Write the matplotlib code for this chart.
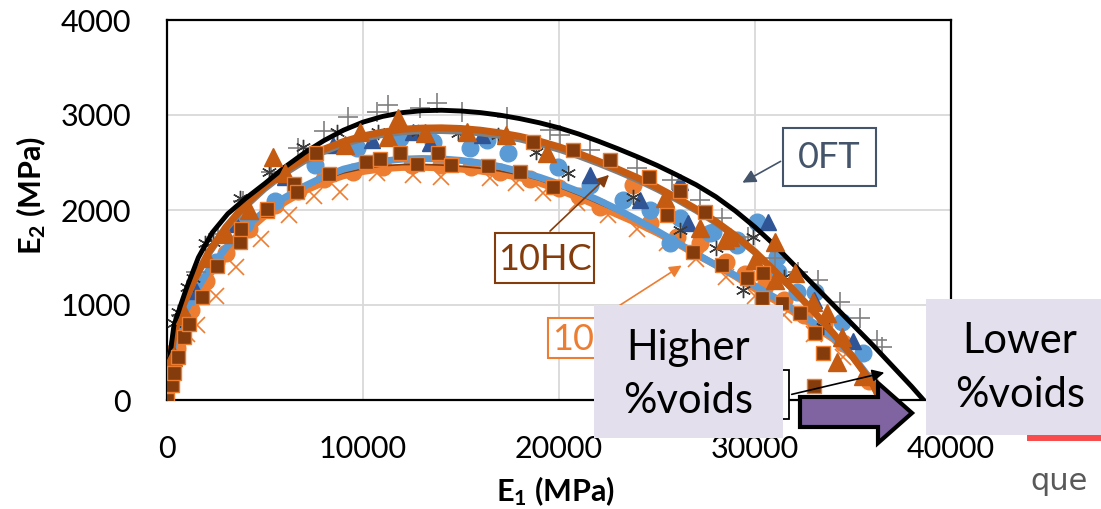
import matplotlib
matplotlib.use('Agg')
import matplotlib.pyplot as plt
from matplotlib.patches import Rectangle, Polygon

plt.rcParams['font.family'] = ['Lato', 'DejaVu Sans']
plt.rcParams['mathtext.default'] = 'regular'

# ---- fitted curves ----
fit0_x = [0, 30, 120, 350, 700, 1000, 1600, 2300, 3100, 4000, 5000, 6000, 7000, 8000, 9000, 10000,
          11000, 12000, 13000, 14000, 15000, 16000, 17000, 18000, 19000, 20000, 21000, 22000,
          23000, 24000, 25000, 26000, 27000, 28000, 29000, 30000, 31000, 32000, 33000, 34000,
          35000, 36000, 37000, 38000, 38600]
fit0_y = [0, 200, 420, 780, 1000, 1180, 1500, 1760, 1960, 2120, 2280, 2450, 2600, 2730, 2840, 2925,
          2985, 3025, 3045, 3050, 3042, 3025, 2998, 2962, 2918, 2865, 2800, 2725,
          2645, 2560, 2470, 2370, 2265, 2140, 1990, 1820, 1630, 1420, 1210, 1000,
          790, 580, 360, 140, 0]

fit_x = [0, 40, 150, 400, 800, 1400, 2100, 3000, 4000, 5000, 6000, 7000, 8000, 9000, 10000, 11000,
         12000, 13000, 14000, 15000, 16000, 17000, 18000, 19000, 20000, 21000, 22000, 23000, 24000,
         25000, 26000, 27000, 28000, 29000, 30000, 31000, 32000, 33000, 34000, 35000, 36000, 36400]
fitHC_y = [0, 200, 420, 720, 990, 1270, 1550, 1820, 2060, 2250, 2410, 2540, 2640, 2720, 2780, 2820,
           2850, 2862, 2865, 2858, 2840, 2812, 2775, 2725, 2665, 2595, 2515, 2430, 2340,
           2240, 2130, 2010, 1880, 1730, 1560, 1360, 1150, 930, 700, 450, 170, 0]
fitG_y = [0, 190, 400, 690, 950, 1230, 1510, 1780, 2020, 2210, 2370, 2500, 2600, 2680, 2740, 2780,
          2808, 2820, 2822, 2815, 2797, 2770, 2733, 2684, 2625, 2556, 2478, 2394, 2305,
          2206, 2098, 1980, 1852, 1705, 1537, 1340, 1133, 917, 690, 442, 165, 0]
fitB_y = [0, 180, 380, 640, 880, 1120, 1360, 1600, 1820, 1990, 2130, 2250, 2350, 2430, 2480, 2515,
          2535, 2542, 2538, 2522, 2495, 2457, 2405, 2345, 2275, 2195, 2105, 2005, 1895,
          1780, 1660, 1540, 1420, 1310, 1200, 1080, 950, 810, 660, 460, 190, 0]
fitO_y = [0, 160, 350, 600, 840, 1070, 1300, 1540, 1760, 1940, 2080, 2200, 2290, 2360, 2405, 2435,
          2448, 2450, 2443, 2430, 2410, 2380, 2340, 2285, 2210, 2130, 2040, 1950, 1860,
          1760, 1650, 1530, 1420, 1300, 1170, 1050, 920, 780, 640, 450, 180, 0]

# ---- measured points ----
sq_x = [0, 255, 357, 561, 867, 1122, 1786, 2551, 3724, 3776, 5102, 5102, 6480, 6633, 7602, 8265,
        10153, 10867, 11888, 12755, 13827, 14490, 16378, 18010, 18673, 19694, 20714, 22602, 24592,
        25510, 26173, 26837, 27449, 28316, 29592, 30408, 30357, 31378, 32296, 33061, 33469, 33010]
sq_y = [0, 158, 284, 453, 663, 800, 1084, 1411, 1663, 1800, 1989, 2011, 2274, 2189, 2600, 2379,
        2505, 2537, 2600, 2484, 2600, 2474, 2463, 2400, 2716, 2242, 2632, 2526, 2347,
        1947, 2200, 1558, 1979, 1421, 1284, 1337, 1074, 1021, 916, 705, 495, 147]

trio_x = [0, 300, 900, 2041, 3000, 4200, 5408, 6020, 9082, 9847, 11276, 11786, 13163, 15306, 17296,
          19388, 25408, 27194, 28469, 28724, 30000, 31020, 31020, 32041, 32959, 33673, 34439, 34184, 35500]
trio_y = [0, 450, 900, 1495, 1750, 2000, 2558, 2389, 2684, 2821, 2768, 2968, 2811, 2821, 2789,
          2600, 2126, 1811, 1684, 1716, 1474, 1663, 1263, 1337, 1032, 916, 663, 400, 250]

circb_x = [200, 700, 1300, 2500, 4000, 5500, 7551, 9694, 11888, 13571, 15459, 16327, 17398, 19949,
           21582, 23265, 24643, 26173, 25663, 27704, 27857, 29082, 29082, 30102, 31122, 31173, 32143,
           33061, 34439, 35500]
circb_y = [350, 800, 1100, 1450, 1850, 2100, 2474, 2653, 2758, 2716, 2653, 2737, 2600, 2453,
           2263, 2105, 2000, 1916, 1653, 1758, 1768, 1684, 1632, 1874, 1505, 1347, 1137,
           1137, 821, 500]

trib_x = [300, 1500, 3500, 6000, 8469, 10459, 12551, 13418, 16071, 21582, 24133, 26173, 26582,
          30663, 33000, 35000]
trib_y = [500, 1150, 1850, 2350, 2684, 2737, 2821, 2705, 2789, 2368, 2105, 2295, 1863,
          1874, 1050, 620]

circo_x = [100, 500, 1200, 2000, 3000, 4200, 5500, 6700, 8000, 9500, 11000, 12500, 14000, 15500,
           17000, 18500, 20000, 21000, 22092, 23775, 24643, 26000, 27194, 28500, 29500, 30500,
           31500, 32500, 33500, 34500, 35800]
circo_y = [200, 550, 950, 1250, 1550, 1800, 2050, 2200, 2330, 2400, 2450, 2470, 2470, 2450,
           2400, 2330, 2230, 2150, 2032, 2263, 1863, 1720, 1653, 1450, 1330, 1200,
           1050, 900, 800, 600, 200]

xo_x = [400, 1000, 1531, 2500, 3500, 4800, 6200, 7500, 8827, 10714, 12551, 14000, 16480, 17800,
        19184, 20918, 22500, 24000, 25500, 27000, 28500, 30000, 31500, 33000, 34500]
xo_y = [500, 700, 789, 1100, 1400, 1700, 1950, 2150, 2189, 2389, 2368, 2350, 2337, 2280,
        2179, 2074, 1950, 1800, 1650, 1480, 1300, 1100, 900, 700, 450]

plus_x = [150, 700, 1500, 2600, 3900, 5300, 6700, 8000, 9235, 10714, 11276, 12908, 13776, 15051,
          17347, 19541, 20051, 21582, 23980, 25765, 27194, 28316, 29643, 31000, 32200, 33214,
          34337, 35357, 36224, 36480]
plus_y = [400, 900, 1350, 1750, 2100, 2400, 2650, 2830, 2979, 3032, 3105, 3074, 3126, 3032,
          2979, 2842, 2789, 2632, 2442, 2316, 2105, 1916, 1716, 1500, 1350, 1263,
          1032, 863, 632, 558]

star_x = [0, 357, 561, 1020, 1327, 1939, 2347, 3724, 5200, 6939, 8673, 10765, 12806, 14847, 16888,
          18827, 20459, 23776, 26173, 28000, 29388, 29898, 31500, 33469]
star_y = [400, 810, 926, 1189, 1284, 1653, 1663, 2126, 2400, 2663, 2821, 2821, 2821, 2811, 2789,
          2610, 2389, 2137, 1789, 1600, 1158, 1716, 1300, 768]

xticks = [0, 10000, 20000, 30000, 40000]
yticks = [0, 1000, 2000, 3000, 4000]

fig = plt.figure(figsize=(11.01, 5.09), dpi=100)
ax = fig.add_axes([167 / 1101, 109 / 509, 784 / 1101, 380 / 509])
ax.set_xlim(0, 40000)
ax.set_ylim(0, 4000)
ax.set_xticks(xticks)
ax.set_yticks(yticks)
ax.set_axisbelow(True)
ax.grid(color='#D9D9D9', lw=1.3)
ax.tick_params(length=0, labelsize=22)
ax.tick_params(axis='y', pad=26)
ax.tick_params(axis='x', pad=25)
for s in ax.spines.values():
    s.set_color('black')
    s.set_linewidth(1.6)

ax.plot(xo_x, xo_y, ls='none', marker='x', ms=12, mew=1.2, color='#ED7D31', zorder=2)
ax.plot(circo_x, circo_y, ls='none', marker='o', ms=12, color='#ED7D31', zorder=2)
ax.plot(fit_x, fitO_y, color='#ED7D31', lw=5, zorder=3)
ax.plot(fit_x, [v + 30 for v in fitO_y], color='#843C0C', lw=1.2, zorder=3)
ax.plot(fit_x, fitB_y, color='#5B9BD5', lw=5, zorder=3)
ax.plot(circb_x, circb_y, ls='none', marker='o', ms=12, color='#5B9BD5', zorder=4)
ax.plot(trib_x, trib_y, ls='none', marker='^', ms=12, color='#2F5597', zorder=4)
ax.plot(plus_x, plus_y, ls='none', marker='+', ms=14, mew=1.2, color='#7F7F7F', zorder=4)
ax.plot(star_x, star_y, ls='none', marker=(6, 2, 0), ms=11, mew=1.0, color='#3A3A3A', zorder=4)
ax.plot(fit_x, fitG_y, color='#7F7F7F', lw=3, zorder=5)
ax.plot(fit_x, fitHC_y, color='#C55A11', lw=5, zorder=5)
ax.plot(fit0_x, fit0_y, color='black', lw=3.5, zorder=6)
ax.plot(trio_x, trio_y, ls='none', marker='^', ms=13, color='#C55A11', zorder=7)
ax.plot(sq_x, sq_y, ls='none', marker='s', ms=10, mfc='#843C0C', mec='#ED7D31', mew=1, zorder=8)

fig.text(556 / 1101, 1 - 491 / 509, 'E$_1$ (MPa)', fontsize=22, fontweight='bold',
         ha='center', va='center')
fig.text(31 / 1101, 1 - 195 / 509, 'E$_2$ (MPa)', fontsize=22, fontweight='bold',
         ha='center', va='center', rotation=90)

# ---- overlay in pixel coordinates ----
ov = fig.add_axes([0, 0, 1, 1])
ov.set_xlim(0, 1101)
ov.set_ylim(509, 0)
ov.axis('off')

# hidden black-bordered label
ov.add_patch(Rectangle((700, 370), 89, 49, fc='white', ec='black', lw=1.3, zorder=1))
ov.annotate('', xy=(887, 372), xytext=(789, 395),
            arrowprops=dict(arrowstyle='-|>', color='black', lw=1.2, mutation_scale=18), zorder=1)

# orange label (partly hidden)
ov.add_patch(Rectangle((548, 318), 110, 40, fc='white', ec='#ED7D31', lw=1.5, zorder=1))
ov.text(552, 339, '10FT', color='#ED7D31', fontsize=26, ha='left', va='center', zorder=1)
ov.annotate('', xy=(684, 264), xytext=(600, 318),
            arrowprops=dict(arrowstyle='-|>', color='#ED7D31', lw=1.2, mutation_scale=18), zorder=1)

# 10HC label
ov.add_patch(Rectangle((495, 233), 99, 50, fc='white', ec='#843C0C', lw=1.5, zorder=2))
ov.text(544.5, 259, '10HC', color='#843C0C', fontsize=26, ha='center', va='center', zorder=2)
ov.annotate('', xy=(611, 173), xytext=(548, 233),
            arrowprops=dict(arrowstyle='-|>', color='#843C0C', lw=1.2, mutation_scale=18), zorder=2)

# 0FT label
ov.add_patch(Rectangle((783, 128), 93, 58, fc='white', ec='#44546A', lw=1.5, zorder=2))
ov.text(829.5, 158, '0FT', color='#44546A', fontsize=26, ha='center', va='center', zorder=2)
ov.annotate('', xy=(740, 184), xytext=(783, 160),
            arrowprops=dict(arrowstyle='-|>', color='#44546A', lw=1.2, mutation_scale=20), zorder=2)

# void boxes
ov.add_patch(Rectangle((594, 305), 189, 133, fc='#E4DFEC', ec='none', zorder=3))
ov.text(688, 348, 'Higher', fontsize=30, ha='center', va='center', zorder=4)
ov.text(688, 401, '%voids', fontsize=30, ha='center', va='center', zorder=4)

ov.add_patch(Polygon([(800, 397), (878, 397), (878, 383), (912, 413), (878, 443), (878, 427), (800, 427)],
                     closed=True, fc='#8064A2', ec='black', lw=3, joinstyle='miter', zorder=3))

ov.plot([1030, 1101], [437.5, 437.5], color='#F94B4B', lw=4.3, zorder=3)
ov.add_patch(Rectangle((926, 299), 180, 136, fc='#E4DFEC', ec='none', zorder=3))
ov.text(1020, 341, 'Lower', fontsize=30, ha='center', va='center', zorder=4)
ov.text(1020, 395, '%voids', fontsize=30, ha='center', va='center', zorder=4)

ov.text(1030, 490, 'que', color='#595959', fontsize=22, family='DejaVu Sans',
        ha='left', va='baseline', zorder=4)

fig.savefig('out.png', dpi=100)
